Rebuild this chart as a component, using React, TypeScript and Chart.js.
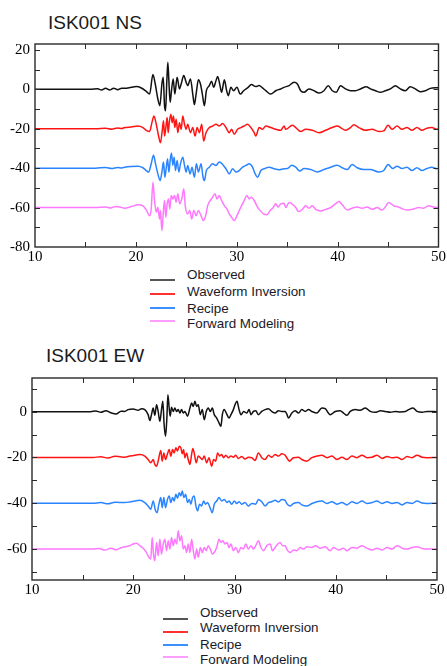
import React, { useEffect, useRef } from "react";
import { Chart, registerables } from "chart.js";

Chart.register(...registerables);

// ---------- data ----------
const SERIES_LABELS = ["Observed", "Waveform Inversion", "Recipe", "Forward Modeling"];
const SERIES_COLORS = ["#111111", "#ff1414", "#2a84ff", "#ff78ff"];
const LEGEND_COLORS = ["#555555", "#ff3030", "#3d8eff", "#ff9cff"];
const OFFSETS = [0, -20, -40, -60];

const X_TICKS = [10, 20, 30, 40, 50];
const X_MARKS = [15, 20, 25, 30, 35, 40, 45];
const NS_Y_TICKS = [20, 0, -20, -40, -60, -80];
const NS_Y_MARKS = [20, 10, 0, -10, -20, -30, -40, -50, -60, -70];
const EW_Y_TICKS = [0, -20, -40, -60];
const EW_Y_MARKS = [10, 0, -10, -20, -30, -40, -50, -60, -70];

// [time (s), amplitude] pairs
const NS_OBS = [
  [10, 0], [15.5, 0], [16.2, 0.3], [16.6, -0.3], [17.0, 0.5], [17.4, -0.4], [17.8, 0.6], [18.2, -0.2], [18.6, 0.6],
  [18.89, 0.5], [19.55, 1.0], [20.04, 1.4], [20.54, 0.7], [21.03, -1.0], [21.36, -2.4], [21.69, 7.5], [21.92, 2.7],
  [22.18, -4.9], [22.38, -8.3], [22.58, 2.7], [22.71, 6.1], [22.84, -8.3], [22.94, -10.9], [23.07, 4.4], [23.17, 13.8],
  [23.27, 4.4], [23.40, -6.6], [23.53, -0.7], [23.70, 5.3], [23.86, -2.4], [24.09, 6.1], [24.32, 0.2], [24.49, 2.7],
  [24.75, 7.0], [24.98, 3.6], [25.14, 1.9], [25.41, 5.3], [25.64, -2.4], [25.80, -7.8], [25.97, -2.4], [26.20, 4.8],
  [26.40, 2.7], [26.59, -2.4], [26.79, -8.3], [26.99, -0.7], [27.28, 1.9], [27.51, 4.1], [27.71, 1.0], [27.94, 4.4],
  [28.11, 6.5], [28.34, 1.9], [28.50, -1.5], [28.77, 4.8], [29.00, -0.7], [29.16, -3.2], [29.42, 1.0], [29.69, -0.7],
  [30.02, 1.0], [30.35, -2.4], [30.68, -0.7], [31.07, 0.7], [31.46, 2.4], [31.89, 1.4], [32.22, 1.9], [32.55, 0.7],
  [32.88, -0.7], [33.37, -2.4], [33.87, -0.7], [34.36, 0.2], [34.69, 1.0], [35.19, 1.9], [35.68, 3.6], [36.01, 2.7],
  [36.34, -0.7], [36.67, -1.5], [37.16, 0.2], [37.66, -0.7], [38.15, -1.9], [38.64, -0.7], [39.07, 1.8], [39.47, -0.7],
  [39.86, -1.5], [40.29, 1.8], [40.78, 0.2], [41.28, -0.7], [41.77, -0.7], [42.27, 0.2], [42.83, 1.3], [43.25, 0.2],
  [43.75, -0.7], [44.24, -1.5], [44.73, -0.7], [45.23, 0.2], [45.72, 1.8], [46.22, 0.2], [46.71, -0.7], [47.20, 1.3],
  [47.70, 0.2], [48.19, -1.2], [48.69, -0.7], [49.18, 0.5], [49.67, 0.8], [50, 0.8],
];

const NS_WI = [
  [10, 0], [16, 0], [17, 0.3], [17.6, -0.2], [18.2, 0.4], [18.6, 0.1], [18.89, 0.6], [19.55, 0.9], [20.21, 1.4],
  [20.70, 0.6], [21.03, -0.8], [21.36, -1.4], [21.59, 3.1], [21.79, 6.5], [22.02, 2.3], [22.25, -3.7], [22.44, -7.1],
  [22.61, -1.1], [22.74, 4.0], [22.84, -3.7], [22.97, 0.6], [23.10, 5.7], [23.20, -2.0], [23.33, 4.0], [23.47, 7.4],
  [23.60, 3.1], [23.73, 6.5], [23.86, 0.6], [23.99, 4.8], [24.16, -2.0], [24.32, 3.1], [24.49, -0.3], [24.65, 6.5],
  [24.82, 2.3], [24.98, -0.3], [25.14, 2.3], [25.41, -2.0], [25.64, 0.6], [25.87, -3.7], [26.07, 0.6], [26.30, -2.0],
  [26.53, 2.3], [26.72, -6.2], [26.95, -2.0], [27.28, 0.6], [27.61, 1.4], [27.94, 2.3], [28.27, 1.4], [28.60, 2.6],
  [28.93, 0.6], [29.26, -2.0], [29.49, -0.3], [29.75, -2.8], [30.08, -0.3], [30.41, 0.6], [30.74, 1.4], [31.07, 2.3],
  [31.40, 0.6], [31.73, -2.0], [31.89, -3.7], [32.22, 0.6], [32.55, -0.3], [32.88, 1.4], [33.37, 0.6], [33.87, -0.3],
  [34.36, -0.8], [34.69, 1.4], [34.86, -0.3], [35.52, 1.8], [35.85, 0.6], [36.34, -1.4], [36.83, -0.3], [37.49, -0.8],
  [38.15, -2.0], [38.81, -0.8], [39.47, 0.6], [39.96, 1.4], [40.29, 0.6], [40.78, -0.8], [41.28, 0.6], [41.61, 2.0],
  [42.10, 0.6], [42.76, -0.8], [43.42, -0.3], [44.08, -1.4], [44.57, -1.1], [45.00, 1.8], [45.39, -0.3], [45.89, 1.4],
  [46.38, -0.3], [46.87, 0.6], [47.37, -0.8], [47.86, 0.6], [48.36, -0.8], [48.85, 0.3], [49.34, 0.6], [49.84, -0.3],
  [50, 0],
];

const NS_RC = [
  [10, 0], [16, 0], [17, 0.3], [17.6, -0.2], [18.2, 0.4], [18.6, 0.1], [18.89, 0.5], [19.55, 0.9], [20.21, 1.0],
  [20.70, 0.2], [21.03, -1.2], [21.26, -2.0], [21.52, 2.2], [21.75, 6.5], [21.95, 2.2], [22.18, -2.9], [22.41, -6.3],
  [22.58, -2.0], [22.74, 3.1], [22.87, -4.6], [23.00, -0.3], [23.14, 4.8], [23.27, -2.0], [23.40, 3.9], [23.53, 7.7],
  [23.66, 1.4], [23.79, 5.6], [23.93, -1.2], [24.09, 3.9], [24.26, -2.0], [24.42, 2.2], [24.65, 5.6], [24.82, 1.4],
  [24.98, -2.0], [25.14, 1.4], [25.37, -2.9], [25.57, 0.5], [25.80, -4.6], [26.00, 2.2], [26.20, -2.0], [26.46, 2.2],
  [26.66, -4.6], [26.79, -6.3], [26.99, -1.2], [27.28, 0.5], [27.61, 2.2], [27.94, 1.4], [28.27, 3.1], [28.60, 1.9],
  [28.93, -0.3], [29.26, -2.9], [29.59, -0.3], [29.92, -2.0], [30.25, -1.2], [30.58, 0.5], [30.91, 1.4], [31.23, 2.2],
  [31.56, 0.5], [31.83, -2.9], [32.06, -4.6], [32.39, -1.2], [32.72, -0.3], [33.21, 0.5], [33.70, -0.3], [34.20, -0.8],
  [34.69, -0.3], [35.02, -0.2], [35.45, 1.5], [35.85, 0.5], [36.24, -1.5], [36.67, -0.2], [37.33, -0.7], [37.99, -1.9],
  [38.64, -0.7], [39.30, 0.5], [39.96, 1.5], [40.46, 0.2], [40.95, -0.7], [41.44, 1.9], [41.94, 0.2], [42.59, -0.7],
  [43.25, -0.7], [44.08, -1.9], [44.57, -1.2], [45.00, 1.9], [45.46, -0.2], [45.89, 1.0], [46.38, -0.2], [46.87, 0.5],
  [47.37, -1.2], [47.86, 0.2], [48.36, -1.2], [48.85, -0.2], [49.34, 0.5], [49.84, -0.3], [50, 0],
];

const NS_FM = [
  [10, 0], [16, 0], [17.0, 0.3], [17.5, -0.2], [18.0, 0.6], [18.5, 0.2], [18.89, -0.3], [19.55, 0.5], [20.21, 1.4],
  [20.70, 0.9], [21.03, -1.2], [21.36, -4.1], [21.52, -0.7], [21.69, 12.9], [21.85, 3.6], [22.02, -2.4], [22.18, 0.2],
  [22.35, -5.8], [22.44, -1.5], [22.58, -11.7], [22.71, -3.2], [22.84, 3.6], [22.97, -4.9], [23.10, 1.9], [23.24, 4.4],
  [23.36, -0.7], [23.50, 6.1], [23.66, 4.4], [23.83, 6.1], [23.99, 2.7], [24.16, 7.0], [24.35, 1.9], [24.55, 4.4],
  [24.75, 9.5], [24.91, 0.2], [25.14, -3.2], [25.34, -1.5], [25.54, -5.8], [25.74, -1.5], [25.97, -4.1], [26.20, -1.5],
  [26.46, -4.1], [26.69, -6.6], [26.92, -4.1], [27.12, 1.0], [27.38, 3.6], [27.61, 5.3], [27.84, 7.0], [28.04, 4.4],
  [28.27, 6.1], [28.50, 3.6], [28.77, 1.0], [29.03, -0.7], [29.26, -3.2], [29.49, -4.9], [29.75, -6.6], [30.02, -4.1],
  [30.25, -1.5], [30.48, 1.0], [30.74, 3.6], [31.00, 6.1], [31.23, 4.4], [31.46, 5.3], [31.73, 3.6], [32.06, 0.2],
  [32.32, -1.5], [32.65, -3.2], [32.98, -3.6], [33.31, -1.5], [33.64, 0.2], [33.87, 1.9], [34.10, 0.2], [34.36, 1.9],
  [34.69, 2.2], [34.86, 0], [35.19, 2.6], [35.52, 1.7], [35.85, 0], [36.11, -2.0], [36.50, -0.9], [36.83, 0.9],
  [37.16, -0.3], [37.49, 0.9], [37.82, -0.9], [38.32, -1.7], [38.81, -0.9], [39.30, 0], [39.80, 2.0], [40.13, 3.1],
  [40.46, 1.4], [40.95, -1.2], [41.44, -0.3], [41.94, 0.3], [42.43, -0.3], [42.92, 0.3], [43.42, -0.9], [43.91, 0],
  [44.41, -1.2], [44.73, 0.3], [45.06, 2.6], [45.56, 0.9], [46.05, 0.3], [46.55, -0.9], [47.04, -1.2], [47.53, -0.7],
  [48.03, 0], [48.52, -0.3], [49.01, 0.9], [49.51, 0.3], [50, 0],
];

const EW_OBS = [
  [10, 0], [15.8, 0], [16.3, 0.3], [16.8, -0.3], [17.3, 0.4], [17.8, -0.5], [18.3, -1.0], [18.8, 0.2], [19.16, 0.1],
  [19.49, 0.9], [19.99, 1.2], [20.48, 0.6], [20.81, 1.3], [21.14, 0.9], [21.47, -1.3], [21.64, -3.9], [21.80, -1.3],
  [21.97, 1.6], [22.13, -1.6], [22.30, 3.0], [22.46, 0.1], [22.63, -4.2], [22.79, 0.9], [22.92, 4.5], [23.05, -5.7],
  [23.19, -10.7], [23.32, -2.8], [23.42, 7.4], [23.55, 1.6], [23.65, -2.0], [23.78, 1.9], [23.95, 0.1], [24.11, 1.6],
  [24.28, 0.1], [24.44, 0.9], [24.61, -0.6], [24.77, 0.9], [24.94, -0.6], [25.10, 0.1], [25.36, -2.0], [25.60, 1.6],
  [25.76, 3.8], [25.93, 2.3], [26.09, 4.5], [26.26, 2.3], [26.42, 3.0], [26.62, -1.3], [26.82, 0.9], [27.01, -3.5],
  [27.21, 0.1], [27.41, 1.6], [27.61, 0.1], [27.81, 1.6], [28.00, -1.3], [28.24, -2.8], [28.47, -4.9], [28.66, -6.4],
  [28.80, -1.3], [28.99, 0.9], [29.19, -0.6], [29.46, -2.8], [29.65, -1.3], [29.89, 0.9], [30.05, 3.0], [30.25, 4.5],
  [30.45, 0.9], [30.64, -1.3], [30.91, 0.1], [31.21, -0.6], [31.44, 0.9], [31.63, -1.3], [31.87, 0.1], [32.10, 0.4],
  [32.36, -1.3], [32.69, 0.1], [33.02, 0.9], [33.35, 1.3], [33.68, 0.1], [34.01, -0.6], [34.34, 0.4], [34.67, 0.1],
  [35.00, 0.1], [35.16, -1.0], [35.33, -2.8], [35.66, -0.6], [35.99, 0.4], [36.32, -0.6], [36.65, 0.9], [36.98, 0.1],
  [37.31, 0.9], [37.64, 0.1], [38.13, -0.6], [38.63, 1.6], [38.96, 1.3], [39.45, -1.3], [39.95, 0.1], [40.44, 0.4],
  [40.77, -0.6], [41.10, -1.6], [41.43, 0.1], [41.93, 0.9], [42.42, 0.6], [42.92, 1.6], [43.41, 0.1], [43.91, -0.3],
  [44.40, 0.4], [44.90, 0.1], [45.39, -0.3], [45.89, 0.1], [46.38, -0.1], [46.88, 0.1], [47.21, 0.9], [47.63, 1.6],
  [48.03, 0.1], [48.53, -0.3], [49.02, 0.1], [50, 0],
];

const EW_WI = [
  [10, 0], [16, 0], [16.8, 0.3], [17.5, -0.2], [18.2, 0.5], [18.7, 0.3], [19.16, 0.1], [19.66, 0.6], [20.15, 1.0],
  [20.65, 1.3], [21.14, 0.6], [21.47, -0.9], [21.73, -2.3], [21.97, -0.9], [22.13, -3.0], [22.30, -3.8], [22.46, -1.6],
  [22.63, 2.0], [22.72, 3.0], [22.86, -1.6], [23.02, 2.0], [23.19, -0.9], [23.38, 1.6], [23.55, 3.5], [23.71, 0.6],
  [23.88, 3.5], [24.04, 2.0], [24.21, 4.2], [24.37, 2.8], [24.54, 4.9], [24.70, 4.2], [24.84, 1.6], [24.97, 3.5],
  [25.10, -0.1], [25.27, 2.0], [25.43, -0.9], [25.60, -3.0], [25.76, 1.3], [25.89, 3.9], [26.02, 2.0], [26.22, -2.3],
  [26.42, 0.6], [26.62, -0.1], [26.82, -0.9], [27.01, 0.6], [27.25, -2.3], [27.48, -0.1], [27.74, -3.8], [27.94, -0.9],
  [28.14, -1.6], [28.33, 2.0], [28.53, 0.6], [28.73, 1.3], [28.93, -0.1], [29.13, 1.0], [29.39, -0.1], [29.65, 0.6],
  [29.89, 0.1], [30.12, 1.0], [30.38, -0.4], [30.71, 0.4], [31.04, -0.7], [31.37, 0.1], [31.70, -0.1], [32.03, -1.3],
  [32.36, 2.0], [32.69, -0.1], [33.02, -0.9], [33.35, 1.0], [33.68, 0.1], [34.01, 1.3], [34.34, 0.6], [34.67, 1.6],
  [35.00, 1.0], [35.16, -0.1], [35.42, -1.6], [35.82, -0.1], [36.32, 0.1], [36.65, -0.9], [37.14, -1.6], [37.64, -0.1],
  [38.13, 0.6], [38.63, 1.0], [39.12, -0.1], [39.62, 0.6], [40.11, -0.9], [40.61, 0.1], [41.10, -0.9], [41.60, 0.6],
  [42.09, -0.1], [42.59, 1.0], [43.08, -0.1], [43.58, 0.1], [44.07, 1.0], [44.57, -0.4], [45.06, 0.4], [45.56, -0.1],
  [46.05, 0.1], [46.55, -0.9], [47.04, 0.4], [47.54, -0.1], [48.03, 1.0], [48.53, 0.1], [49.02, -0.1], [50, 0],
];

const EW_RC = [
  [10, 0], [16, 0], [16.8, 0.3], [17.5, -0.2], [18.2, 0.5], [18.7, 0.3], [19.16, 0.3], [19.66, 0.6], [20.15, 1.0],
  [20.65, 1.3], [21.14, 0.3], [21.47, -1.2], [21.73, -2.6], [21.97, 1.0], [22.20, -3.3], [22.36, -4.1], [22.53, -0.4],
  [22.72, 2.5], [22.86, -1.9], [23.02, 2.5], [23.19, -1.9], [23.38, 1.7], [23.55, 3.2], [23.71, 0.3], [23.88, 2.5],
  [24.04, 1.0], [24.21, 3.9], [24.37, 2.2], [24.54, 4.6], [24.70, 3.2], [24.84, 5.4], [25.00, 2.5], [25.17, 3.9],
  [25.36, 0.3], [25.53, 1.7], [25.69, -0.4], [25.86, 2.5], [26.02, 3.2], [26.19, -1.2], [26.35, -3.3], [26.55, -0.4],
  [26.75, -1.2], [26.95, 1.0], [27.15, -0.4], [27.34, 0.3], [27.58, -1.9], [27.81, -4.1], [28.00, -0.4], [28.24, 1.0],
  [28.47, 2.5], [28.73, 1.0], [28.99, 1.7], [29.26, 0.3], [29.46, 1.0], [29.72, -0.4], [29.98, 1.0], [30.22, -0.1],
  [30.45, 0.7], [30.71, -0.4], [31.04, 0.3], [31.37, -1.2], [31.70, -0.1], [32.10, -0.4], [32.36, 1.7], [32.69, 0.7],
  [33.02, -1.2], [33.35, 0.3], [33.68, 0.7], [34.01, 1.3], [34.34, 0.6], [34.67, 1.6], [35.00, 1.3], [35.16, -0.1],
  [35.49, -1.2], [35.82, -0.1], [36.32, 0.3], [36.65, -0.7], [37.14, -1.2], [37.64, -0.1], [38.13, 0.7], [38.63, 1.0],
  [39.12, -0.1], [39.62, 0.7], [40.11, -0.4], [40.61, 0.3], [41.10, -0.7], [41.60, 0.7], [42.09, -0.1], [42.59, 1.0],
  [43.08, -0.1], [43.58, 0.3], [44.07, 1.0], [44.57, -0.1], [45.06, 0.7], [45.56, -0.1], [46.05, 0.3], [46.55, -0.7],
  [47.04, 0.3], [47.54, -0.1], [48.03, 1.0], [48.53, 0.1], [49.02, -0.1], [50, 0],
];

const EW_FM = [
  [10, 0], [16, 0], [16.6, 0.3], [17.2, -0.4], [17.8, 0.4], [18.3, -0.3], [18.8, 0.6], [19.16, 1.0], [19.66, 1.5],
  [19.99, 2.2], [20.32, 2.5], [20.65, 1.5], [20.98, 0.4], [21.31, -1.5], [21.54, -3.6], [21.73, -4.3], [21.87, 5.1],
  [22.00, -2.2], [22.13, -5.1], [22.30, 2.9], [22.46, -2.9], [22.63, 4.3], [22.79, -2.2], [22.96, 2.2], [23.12, 4.3],
  [23.29, -0.7], [23.45, 3.6], [23.62, 0], [23.78, 5.1], [23.95, 1.5], [24.11, 4.3], [24.28, 2.2], [24.44, 8.0],
  [24.61, 3.6], [24.77, 5.8], [24.94, 0], [25.10, 1.5], [25.27, -1.5], [25.43, 2.2], [25.60, -1.5], [25.76, 4.3],
  [25.93, -0.7], [26.09, -4.3], [26.26, 0], [26.42, -3.6], [26.62, 0.7], [26.82, -1.5], [27.01, 0.7], [27.21, -0.7],
  [27.41, 1.5], [27.61, 0], [27.81, -2.2], [28.00, -1.5], [28.24, 0.7], [28.47, 4.3], [28.66, 2.9], [28.86, 3.6],
  [29.06, 2.2], [29.26, 2.9], [29.46, 0.7], [29.65, 2.2], [29.89, -0.7], [30.12, 0.7], [30.38, -1.5], [30.64, 0.7],
  [30.88, 0], [31.11, 2.2], [31.37, 0], [31.63, 1.5], [31.87, 0], [32.10, 1.5], [32.36, 3.6], [32.62, 0.7],
  [32.86, -0.7], [33.19, 1.5], [33.52, 2.2], [33.75, -0.7], [34.01, 0.7], [34.27, 2.2], [34.51, 2.9], [34.74, 1.5],
  [35.00, 1.5], [35.16, 0], [35.49, -1.5], [35.82, -0.4], [36.15, -0.7], [36.48, 0.7], [36.81, 0], [37.14, 1.0],
  [37.64, 0.7], [37.97, 1.5], [38.46, 0.4], [38.96, 1.0], [39.45, -0.7], [39.78, 0.7], [40.28, -0.4], [40.77, 0.4],
  [41.10, -0.7], [41.60, 0.7], [42.09, 0.4], [42.59, 1.5], [43.08, 0.4], [43.58, -0.4], [44.07, 0.4], [44.57, -0.4],
  [45.06, 0.7], [45.56, 0], [46.05, 1.5], [46.55, 0.4], [47.04, 0], [47.54, 0.7], [48.03, 1.0], [48.53, 0.3],
  [49.02, 0], [50, 0],
];

const NS_TRACES = [NS_OBS, NS_WI, NS_RC, NS_FM];
const EW_TRACES = [EW_OBS, EW_WI, EW_RC, EW_FM];

// ---------- chart ----------
type PanelCfg = {
  traces: number[][][];
  yMin: number;
  yMax: number;
  yTicks: number[];
  yMarks: number[];
  width: number;
  height: number;
  padTop: number;
  padRight: number;
  yAxisWidth: number;
  xAxisHeight: number;
};

const SERIF = '"Liberation Serif", "Times New Roman", serif';
const SANS = '"Liberation Sans", Arial, sans-serif';

function makeFramePlugin(yMarks: number[]) {
  return {
    id: "frameTicks",
    afterDraw(chart: any) {
      const { ctx, chartArea: a } = chart;
      const xs = chart.scales.x;
      const ys = chart.scales.y;
      ctx.save();
      ctx.strokeStyle = "#2a2a2a";
      ctx.lineWidth = 1.4;
      ctx.strokeRect(a.left, a.top, a.right - a.left, a.bottom - a.top);
      ctx.lineWidth = 1;
      ctx.beginPath();
      X_MARKS.forEach((v) => {
        const px = Math.round(xs.getPixelForValue(v)) + 0.5;
        ctx.moveTo(px, a.top);
        ctx.lineTo(px, a.top + 5);
        ctx.moveTo(px, a.bottom);
        ctx.lineTo(px, a.bottom - 5);
      });
      yMarks.forEach((v) => {
        const py = Math.round(ys.getPixelForValue(v)) + 0.5;
        ctx.moveTo(a.left, py);
        ctx.lineTo(a.left + 5, py);
        ctx.moveTo(a.right, py);
        ctx.lineTo(a.right - 5, py);
      });
      ctx.stroke();
      ctx.restore();
    },
  };
}

function Panel(props: PanelCfg) {
  const ref = useRef<HTMLCanvasElement | null>(null);
  useEffect(() => {
    if (!ref.current) return;
    const datasets = props.traces.map((tr, i) => ({
      label: SERIES_LABELS[i],
      data: tr.map((p) => ({ x: p[0], y: p[1] + OFFSETS[i] })),
      borderColor: SERIES_COLORS[i],
      borderWidth: 1.5,
      pointRadius: 0,
      fill: false,
      cubicInterpolationMode: "monotone",
    }));
    const chart = new Chart(ref.current, {
      type: "line",
      data: { datasets },
      options: {
        animation: false,
        responsive: false,
        maintainAspectRatio: false,
        layout: { padding: { left: 0, right: props.padRight, top: props.padTop, bottom: 0 } },
        plugins: { legend: { display: false }, tooltip: { enabled: false }, title: { display: false } },
        scales: {
          x: {
            type: "linear",
            min: 10,
            max: 50,
            grid: { display: false, drawTicks: false },
            border: { display: false },
            ticks: {
              color: "#000",
              font: { family: SERIF, size: 15 },
              padding: 1,
              autoSkip: false,
              maxRotation: 0,
            },
            afterBuildTicks: (s: any) => {
              s.ticks = X_TICKS.map((v) => ({ value: v }));
            },
            afterFit: (s: any) => {
              s.height = props.xAxisHeight;
            },
          },
          y: {
            type: "linear",
            min: props.yMin,
            max: props.yMax,
            grid: { display: false, drawTicks: false },
            border: { display: false },
            ticks: {
              color: "#000",
              font: { family: SERIF, size: 15 },
              padding: 5,
              autoSkip: false,
            },
            afterBuildTicks: (s: any) => {
              s.ticks = props.yTicks.map((v) => ({ value: v }));
            },
            afterFit: (s: any) => {
              s.width = props.yAxisWidth;
            },
          },
        },
      } as any,
      plugins: [makeFramePlugin(props.yMarks)],
    });
    return () => chart.destroy();
  }, []);
  return <canvas ref={ref} width={props.width} height={props.height} style={{ display: "block" }} />;
}

function Legend({ left, top, lineLeft, rowTops, lineYs }: { left: number; top: number; lineLeft: number; rowTops: number[]; lineYs: number[] }) {
  return (
    <>
      {SERIES_LABELS.map((lab, i) => (
        <React.Fragment key={lab}>
          <div
            style={{
              position: "absolute",
              left: lineLeft,
              top: Math.round(lineYs[i] - 0.75),
              width: 25,
              height: 1.5,
              background: LEGEND_COLORS[i],
            }}
          />
          <div
            style={{
              position: "absolute",
              left,
              top: top + rowTops[i],
              font: `13.4px ${SANS}`,
              lineHeight: "16px",
              color: "#1a1a2a",
              whiteSpace: "nowrap",
            }}
          >
            {lab}
          </div>
        </React.Fragment>
      ))}
    </>
  );
}

export default function App() {
  return (
    <div style={{ position: "absolute", left: 0, top: 0, width: 447, height: 666, background: "#fff", overflow: "hidden" }}>
      <div style={{ position: "absolute", left: 48, top: 13, font: `19px ${SANS}`, lineHeight: "19px", color: "#1a1a1a", whiteSpace: "nowrap" }}>
        ISK001 NS
      </div>
      <div style={{ position: "absolute", left: 0, top: 0 }}>
        <Panel
          traces={NS_TRACES}
          yMin={-80}
          yMax={23}
          yTicks={NS_Y_TICKS}
          yMarks={NS_Y_MARKS}
          width={447}
          height={265}
          padTop={44}
          padRight={7}
          yAxisWidth={35}
          xAxisHeight={18}
        />
      </div>
      <Legend left={187} top={267.3} lineLeft={150} rowTops={[0, 16.5, 33.2, 48.2]} lineYs={[279.3, 294, 307.3, 321]} />

      <div style={{ position: "absolute", left: 46, top: 346, font: `19px ${SANS}`, lineHeight: "19px", color: "#1a1a1a", whiteSpace: "nowrap" }}>
        ISK001 EW
      </div>
      <div style={{ position: "absolute", left: 0, top: 360 }}>
        <Panel
          traces={EW_TRACES}
          yMin={-73.5}
          yMax={14.7}
          yTicks={EW_Y_TICKS}
          yMarks={EW_Y_MARKS}
          width={447}
          height={240}
          padTop={18}
          padRight={10}
          yAxisWidth={32}
          xAxisHeight={20}
        />
      </div>
      <Legend left={200} top={604.9} lineLeft={163} rowTops={[0, 15, 31.6, 46.6]} lineYs={[618.3, 631.7, 644.3, 656.7]} />
    </div>
  );
}
